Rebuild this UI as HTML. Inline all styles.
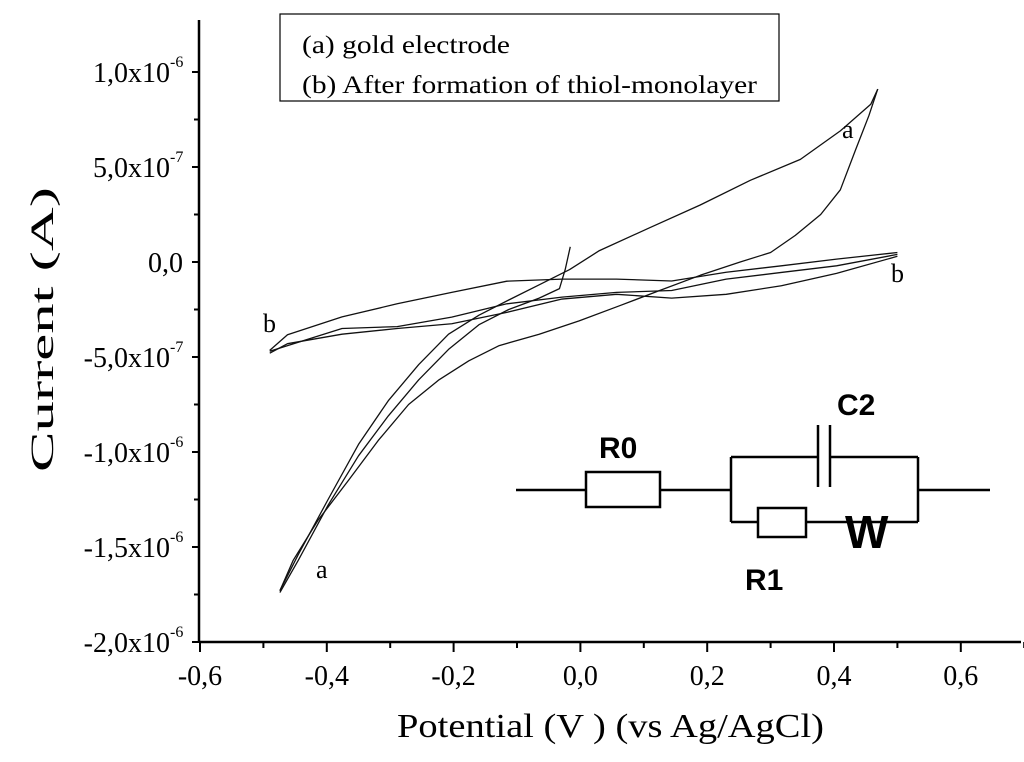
<!DOCTYPE html>
<html><head><meta charset="utf-8"><style>
html,body{margin:0;padding:0;background:#fff;}
svg{display:block;font-family:"Liberation Serif",serif;}
</style></head><body>
<svg id="chart" width="1024" height="762" viewBox="0 0 1024 762">
<g id="axes"></g>
<g id="series"></g>
<g>
<rect x="280" y="14" width="499" height="87" fill="#fff" stroke="#000" stroke-width="1.2"/>
<text x="302" y="53" font-size="25" textLength="208" lengthAdjust="spacingAndGlyphs">(a) gold electrode</text>
<text x="302" y="93" font-size="25" textLength="455" lengthAdjust="spacingAndGlyphs">(b) After formation of thiol-monolayer</text>
</g>
<g font-size="26">
<text x="842" y="138">a</text>
<text x="316" y="578">a</text>
<text x="263" y="332">b</text>
<text x="891" y="282">b</text>
</g>
<g stroke="#000" stroke-width="2.5" fill="none">
<line x1="516" y1="490" x2="586" y2="490"/>
<rect x="586" y="472" width="74" height="35"/>
<line x1="660" y1="490" x2="731" y2="490"/>
<line x1="731" y1="457" x2="731" y2="522"/>
<line x1="731" y1="457" x2="818" y2="457"/>
<line x1="818" y1="425" x2="818" y2="487"/>
<line x1="830" y1="425" x2="830" y2="487"/>
<line x1="830" y1="457" x2="918" y2="457"/>
<line x1="918" y1="457" x2="918" y2="522"/>
<line x1="918" y1="490" x2="990" y2="490"/>
<line x1="731" y1="522" x2="758" y2="522"/>
<rect x="758" y="508" width="48" height="29"/>
<line x1="806" y1="522" x2="918" y2="522"/>
</g>
<g font-family="Liberation Sans, sans-serif" font-weight="bold">
<text x="599" y="458" font-size="30">R0</text>
<text x="837" y="415" font-size="30">C2</text>
<text x="745" y="590" font-size="30">R1</text>
<text x="845" y="548" font-size="46">W</text>
</g>
<text x="397" y="737" font-size="34" textLength="427" lengthAdjust="spacingAndGlyphs">Potential (V ) (vs Ag/AgCl)</text>
<text transform="translate(53,472) rotate(-90)" font-size="33" textLength="285" lengthAdjust="spacingAndGlyphs">Current (A)</text>
</svg>
<script>
// data (V, current in 1e-7 A)
const xTicks = [-0.6,-0.4,-0.2,0.0,0.2,0.4,0.6];
const xTickLabels = ["-0,6","-0,4","-0,2","0,0","0,2","0,4","0,6"];
const yTicks = [10,5,0,-5,-10,-15,-20];
const yTickMant = ["1,0x10","5,0x10","0,0","-5,0x10","-1,0x10","-1,5x10","-2,0x10"];
const yTickExp = ["-6","-7","","-7","-6","-6","-6"];
const aUpperV = [-0.474,-0.445,-0.398,-0.35,-0.303,-0.255,-0.208,-0.16,-0.113,-0.065,-0.017,0.03,0.109,0.189,0.268,0.347,0.41,0.458,0.469];
const aUpperI = [-17.3,-15.4,-12.5,-9.6,-7.3,-5.4,-3.8,-2.8,-2.0,-1.2,-0.4,0.6,1.8,3.0,4.3,5.4,6.9,8.3,9.1];
const aLowerV = [0.469,0.455,0.434,0.41,0.379,0.339,0.3,0.252,0.189,0.125,0.062,-0.002,-0.065,-0.128,-0.176,-0.223,-0.271,-0.319,-0.366,-0.414,-0.453,-0.474];
const aLowerI = [9.1,7.7,5.9,3.8,2.5,1.4,0.5,0,-0.7,-1.5,-2.3,-3.1,-3.8,-4.4,-5.2,-6.2,-7.5,-9.4,-11.5,-13.6,-15.7,-17.3];
const aMidV = [-0.474,-0.445,-0.398,-0.35,-0.303,-0.255,-0.208,-0.16,-0.113,-0.065,-0.033,-0.024,-0.016];
const aMidI = [-17.4,-15.7,-12.8,-10.2,-8.1,-6.2,-4.6,-3.3,-2.5,-1.9,-1.4,-0.4,0.8];
const bUpperV = [-0.49,-0.462,-0.376,-0.289,-0.203,-0.116,-0.029,0.057,0.144,0.23,0.317,0.404,0.5];
const bUpperI = [-4.65,-3.83,-2.89,-2.2,-1.6,-1.01,-0.9,-0.9,-1.0,-0.54,-0.2,0.15,0.5];
const bMidV = [-0.49,-0.376,-0.289,-0.203,-0.116,-0.029,0.057,0.144,0.23,0.317,0.404,0.5];
const bMidI = [-4.7,-3.5,-3.4,-2.9,-2.2,-1.85,-1.6,-1.5,-0.9,-0.55,-0.2,0.4];
const bLowerV = [0.5,0.404,0.317,0.23,0.144,0.057,-0.029,-0.116,-0.203,-0.289,-0.376,-0.462,-0.49];
const bLowerI = [0.3,-0.6,-1.25,-1.7,-1.9,-1.7,-1.95,-2.65,-3.25,-3.5,-3.8,-4.3,-4.8];

const NS="http://www.w3.org/2000/svg";
const X0=200, XS=634;   // px per 1 V, -0.6 at X0
const Y0=262, YS=19;    // px per 1e-7 A, 0 at Y0
function sx(v){return X0+(v+0.6)*XS;}
function sy(i){return Y0-i*YS;}
function mk(tag,attrs,parent){const e=document.createElementNS(NS,tag);for(const k in attrs)e.setAttribute(k,attrs[k]);parent.appendChild(e);return e;}
const axes=document.getElementById('axes');
const ser=document.getElementById('series');
const xl=mk('line',{x1:199,y1:sy(-20),x2:1021,y2:sy(-20),stroke:'#000','stroke-width':2.5},axes);


const yl=mk('line',{x1:199,y1:20,x2:199,y2:sy(-20)+1,stroke:'#000','stroke-width':2.5},axes);


for(let k=0;k<=13;k++){
  const v=-0.6+k*0.1;
  const major=k%2===0;
  mk('line',{x1:sx(v),y1:sy(-20),x2:sx(v),y2:sy(-20)+(major?10:6),stroke:'#000','stroke-width':2},axes);
}
xTicks.forEach((v,i)=>{
  const t=mk('text',{x:sx(v),y:685,'font-size':28,'text-anchor':'middle'},axes);
  t.textContent=xTickLabels[i];
  
  
});
for(let k=0;k<=12;k++){
  const val=-20+k*2.5;
  const major=k%2===0;
  mk('line',{x1:199-(major?7:5),y1:sy(val),x2:199,y2:sy(val),stroke:'#000','stroke-width':2},axes);
}
yTicks.forEach((val,i)=>{
  const t=mk('text',{x:yTickExp[i]?170:183,y:sy(val)+10,'font-size':28,'text-anchor':'end'},axes);
  t.textContent=yTickMant[i];
  
  
  if(yTickExp[i]){
    const e=mk('text',{x:170,y:sy(val)-5,'font-size':16},axes);
    e.textContent=yTickExp[i];
  }
});
function draw(V,I,name){
  const p=mk('polyline',{points:V.map((v,k)=>sx(v)+','+sy(I[k])).join(' '),fill:'none',stroke:'#111','stroke-width':1.3,'stroke-linejoin':'round'},ser);
  
  
}
draw(aUpperV,aUpperI,'series-a-forward');
draw(aLowerV,aLowerI,'series-a-reverse');
draw(aMidV,aMidI,'series-a-second-cycle');
draw(bUpperV,bUpperI,'series-b-forward');
draw(bMidV,bMidI,'series-b-second-cycle');
draw(bLowerV,bLowerI,'series-b-reverse');
</script>
</body></html>
